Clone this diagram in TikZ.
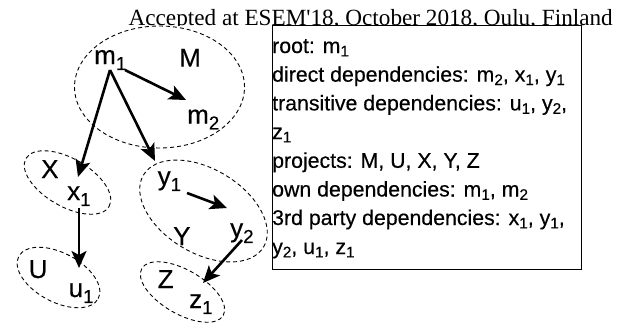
\documentclass[tikz,border=0pt]{standalone}
\usepackage{fontspec}
\setmainfont{Liberation Sans}[FakeBold=0.35]
\newfontfamily\hdrfont{Liberation Serif}
\usetikzlibrary{shapes.geometric,arrows.meta}
\newcommand{\sbs}[1]{\raisebox{-0.16em}{\scalebox{0.72}{#1}}}
\newcommand{\lsb}[1]{\raisebox{-0.23em}{\scalebox{0.72}{#1}}}
\begin{document}
\begin{tikzpicture}[x=1pt,y=-1pt,
  lbl/.style={anchor=base west, inner sep=0pt, font=\fontsize{26}{26}\selectfont},
  txt/.style={anchor=base west, inner sep=0pt, font=\fontsize{21.3}{21.3}\selectfont},
  grp/.style={draw, dash pattern=on 4pt off 3pt, line width=0.9pt, ellipse, inner sep=0pt},
  arr/.style={line width=2.6pt, -{Stealth[length=17pt,width=15pt,inset=4pt]}}]
\useasboundingbox (0,0) rectangle (631,324);
% header, clipped below its baseline
\node[anchor=base east, inner sep=0pt, font=\hdrfont\fontsize{23.2}{23.2}\selectfont] (hdr) at (613,25.3) {Accepted at ESEM'18, October 2018, Oulu, Finland};
\fill[white] (0,25.8) rectangle (631,324);
% groups
\node[grp, minimum width=170pt, minimum height=122pt] (gM) at (159.5,87) {};
\node[grp, minimum width=96pt, minimum height=48pt, rotate=-30] (gX) at (67.5,182.5) {};
\node[grp, minimum width=90pt, minimum height=49pt, rotate=-28] (gU) at (58.5,277.5) {};
\node[grp, minimum width=140pt, minimum height=84pt, rotate=-31] (gY) at (203.5,211) {};
\node[grp, minimum width=94pt, minimum height=44pt, rotate=-30] (gZ) at (182.5,292) {};
% labels
\node[lbl] (m1) at (94,64) {m\lsb{1}};
\node[lbl] (M) at (179,66.7) {M};
\node[lbl] (m2) at (187,123.5) {m\lsb{2}};
\node[lbl] (X) at (41,178) {X};
\node[lbl] (x1) at (67,200) {x\lsb{1}};
\node[lbl] (U) at (28.5,278) {U};
\node[lbl] (u1) at (68.5,297) {u\lsb{1}};
\node[lbl] (y1) at (157.5,185) {y\lsb{1}};
\node[lbl] (Y) at (173,245) {Y};
\node[lbl] (y2) at (230,237) {y\lsb{2}};
\node[lbl] (Z) at (157.5,288) {Z};
\node[lbl] (z1) at (189,308) {z\lsb{1}};
% arrows
\draw[arr] ([shift={(31,6)}]m1.base west) -- ([shift={(-1,-23.5)}]m2.base west);
\draw[arr] ([shift={(16,6)}]m1.base west) -- ([shift={(11,-23)}]x1.base west);
\draw[arr] ([shift={(16,6)}]m1.base west) -- ([shift={(-2.5,-24)}]y1.base west);
\draw[arr] ([shift={(12,8)}]x1.base west) -- ([shift={(10.5,-29)}]u1.base west);
\draw[arr] ([shift={(29.5,8)}]y1.base west) -- ([shift={(-3,-29)}]y2.base west);
\draw[arr] ([shift={(12,3)}]y2.base west) -- ([shift={(14,-25)}]z1.base west);
% info box
\node[draw, fill=white, line width=1.2pt, anchor=north west, inner sep=0pt, minimum width=309pt, minimum height=244pt] (box) at (271.5,25) {};
\node[txt] (l1) at (272,53) {root: m\sbs{1}};
\node[txt] (l2) at (272,81.7) {direct dependencies: m\sbs{2}, x\sbs{1}, y\sbs{1}};
\node[txt] (l3) at (272,110.4) {transitive dependencies: u\sbs{1}, y\sbs{2},};
\node[txt] (l4) at (272,139) {z\sbs{1}};
\node[txt] (l5) at (272,167.8) {projects: M, U, X, Y, Z};
\node[txt] (l6) at (272,196.5) {own dependencies: m\sbs{1}, m\sbs{2}};
\node[txt] (l7) at (272,225) {3rd party dependencies: x\sbs{1}, y\sbs{1},};
\node[txt] (l8) at (272,254) {y\sbs{2}, u\sbs{1}, z\sbs{1}};
\end{tikzpicture}
\end{document}
